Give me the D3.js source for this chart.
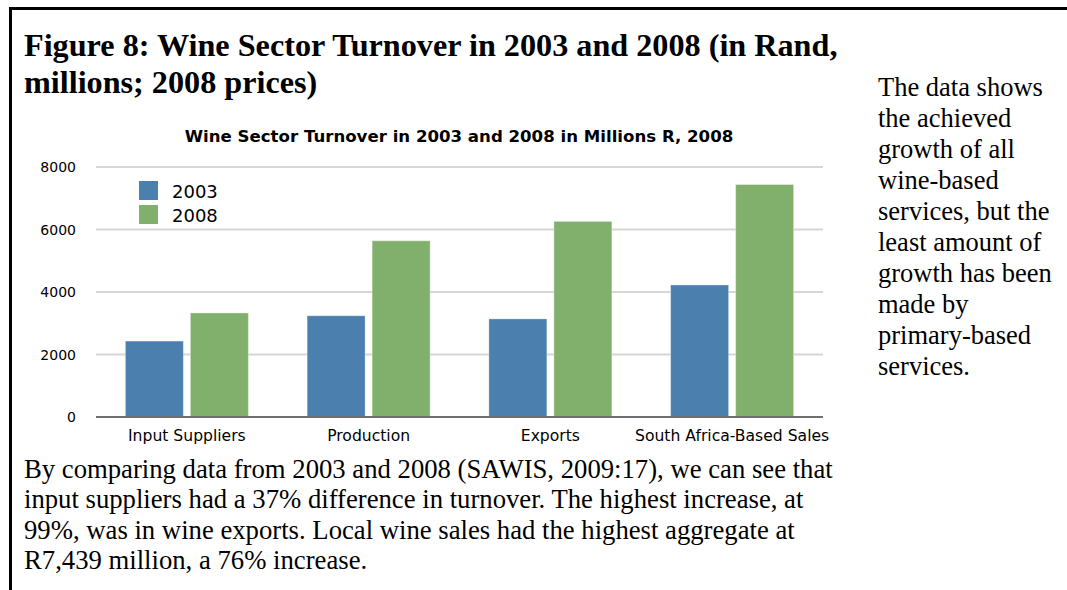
<!DOCTYPE html>
<html>
<head>
<meta charset="utf-8">
<script src="https://cdn.jsdelivr.net/npm/d3@7/dist/d3.min.js"></script>
<style>
  body { margin: 0; background: #fff; }
  svg { display: block; }
</style>
</head>
<body>
<div id="chart"></div>
<script>
// chart data
const categories = ["Input Suppliers", "Production", "Exports", "South Africa-Based Sales"];
const series = ["2003", "2008"];
const values2003 = [2430, 3240, 3140, 4225];
const values2008 = [3330, 5640, 6260, 7439];
const yTicks = [0, 2000, 4000, 6000, 8000];

// surrounding text
const headingLines = ["Figure 8: Wine Sector Turnover in 2003 and 2008 (in Rand,", "millions; 2008 prices)"];
const sideLines = ["The data shows", "the achieved", "growth of all", "wine-based", "services, but the",
  "least amount of", "growth has been", "made by", "primary-based", "services."];
const bottomLines = ["By comparing data from 2003 and 2008 (SAWIS, 2009:17), we can see that",
  "input suppliers had a 37% difference in turnover. The highest increase, at",
  "99%, was in wine exports. Local wine sales had the highest aggregate at",
  "R7,439 million, a 76% increase."];

const W = 1067, H = 590;
const colors = { "2003": "#4b7fae", "2008": "#80b06c" };
const serif = "'Liberation Serif', 'Times New Roman', serif";
const sans = "'DejaVu Sans', Verdana, sans-serif";

const svg = d3.select("#chart").append("svg")
  .attr("width", W).attr("height", H);

svg.append("rect").attr("width", W).attr("height", H).attr("fill", "#fff");

// page frame (left + top rule)
svg.append("path")
  .attr("d", `M10.5,${H} V8.5 H${W}`)
  .attr("fill", "none").attr("stroke", "#000").attr("stroke-width", 3);

// heading
svg.append("g").selectAll("text").data(headingLines).enter()
  .append("text")
  .attr("x", 24).attr("y", (d, i) => 56 + i * 37)
  .style("font", `bold 32.2px ${serif}`)
  .text(d => d);

// right-hand column
svg.append("g").selectAll("text").data(sideLines).enter()
  .append("text")
  .attr("x", 878).attr("y", (d, i) => 96 + i * 31)
  .style("font", `26.5px ${serif}`)
  .text(d => d);

// bottom paragraph
svg.append("g").selectAll("text").data(bottomLines).enter()
  .append("text")
  .attr("x", 24).attr("y", (d, i) => 478 + i * 30.3)
  .style("font", `26.7px ${serif}`)
  .text(d => d);

// ---- bar chart ----
const plotL = 96, plotR = 823, plotT = 167, plotB = 417;

const x0 = d3.scaleBand().domain(categories).range([plotL, plotR]);
const groupW = 123;
const x1 = d3.scaleBand().domain(series).range([0, groupW]).paddingInner(0.108);
const y = d3.scaleLinear().domain([0, 8000]).range([plotB, plotT]);

const plot = svg.append("g");

// chart title
plot.append("text")
  .attr("x", 459).attr("y", 142)
  .attr("text-anchor", "middle")
  .style("font", `bold 16.6px ${sans}`)
  .text("Wine Sector Turnover in 2003 and 2008 in Millions R, 2008");

// gridlines
plot.append("g").selectAll("line").data(yTicks.filter(t => t > 0)).enter()
  .append("line")
  .attr("x1", plotL).attr("x2", plotR)
  .attr("y1", d => y(d)).attr("y2", d => y(d))
  .attr("stroke", "#d6d6d6").attr("stroke-width", 2);

// y tick labels
plot.append("g").selectAll("text").data(yTicks).enter()
  .append("text")
  .attr("x", 76).attr("y", d => y(d) + 5)
  .attr("text-anchor", "end")
  .style("font", `14px ${sans}`)
  .text(d => d);

// bars
const rows = categories.map((c, i) => ({ cat: c, vals: [values2003[i], values2008[i]] }));
const groups = plot.append("g").selectAll("g").data(rows).enter()
  .append("g")
  .attr("transform", d => `translate(${x0(d.cat) + (x0.bandwidth() - groupW) / 2},0)`);

groups.selectAll("rect")
  .data(d => series.map((s, j) => ({ s: s, v: d.vals[j] })))
  .enter().append("rect")
  .attr("x", d => x1(d.s))
  .attr("width", x1.bandwidth())
  .attr("y", d => y(d.v))
  .attr("height", d => plotB - y(d.v))
  .attr("fill", d => colors[d.s])
  .attr("stroke", "#fff").attr("stroke-opacity", 0.35).attr("stroke-width", 1);

// baseline
plot.append("line")
  .attr("x1", plotL).attr("x2", plotR)
  .attr("y1", plotB).attr("y2", plotB)
  .attr("stroke", "#707070").attr("stroke-width", 2);

// category labels
plot.append("g").selectAll("text").data(categories).enter()
  .append("text")
  .attr("x", d => x0(d) + x0.bandwidth() / 2)
  .attr("y", 441)
  .attr("text-anchor", "middle")
  .style("font", `15.6px ${sans}`)
  .text(d => d);

// legend
const legend = plot.append("g").selectAll("g").data(series).enter()
  .append("g")
  .attr("transform", (d, i) => `translate(139,${181 + i * 24})`);
legend.append("rect")
  .attr("width", 19).attr("height", 19)
  .attr("fill", d => colors[d]);
legend.append("text")
  .attr("x", 33).attr("y", 16.5)
  .style("font", `18px ${sans}`)
  .text(d => d);
</script>
</body>
</html>
